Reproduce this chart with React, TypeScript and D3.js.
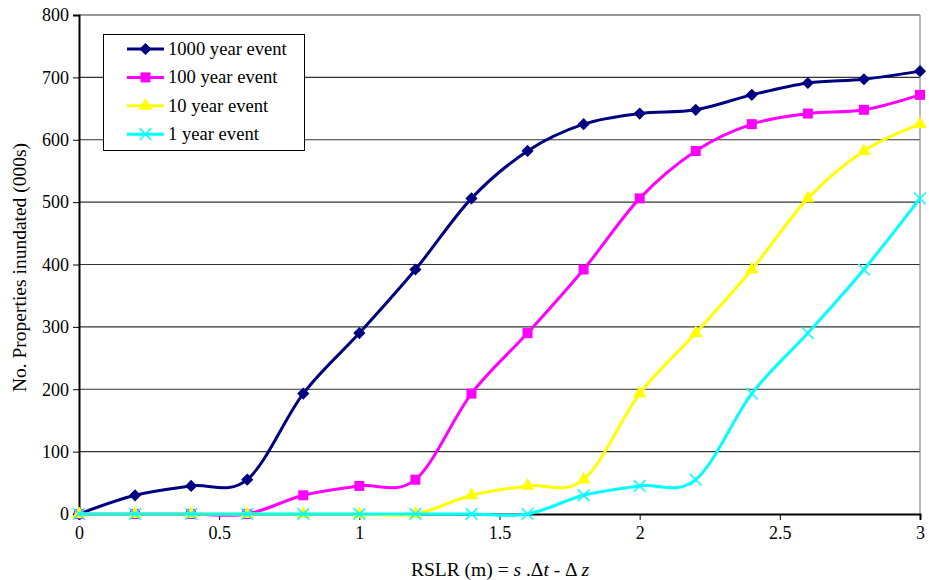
import React, { useRef, useEffect } from 'react';
import * as d3 from 'd3';

// RSLR values (m)
const rslr = [0, 0.2, 0.4, 0.6, 0.8, 1.0, 1.2, 1.4, 1.6, 1.8, 2.0, 2.2, 2.4, 2.6, 2.8, 3.0];

const event1000 = [0, 30, 45, 55, 193, 290, 392, 506, 582, 625, 642, 648, 672, 691, 697, 710];
const event100 = [0, 0, 0, 0, 30, 45, 55, 193, 290, 392, 506, 582, 625, 642, 648, 672];
const event10 = [0, 0, 0, 0, 0, 0, 0, 30, 45, 55, 193, 290, 392, 506, 582, 625];
const event1 = [0, 0, 0, 0, 0, 0, 0, 0, 0, 30, 45, 55, 193, 290, 392, 506];

const xTicks = [0, 0.5, 1, 1.5, 2, 2.5, 3];
const yTicks = [0, 100, 200, 300, 400, 500, 600, 700, 800];

const series = [
  { name: '1000 year event', values: event1000, color: '#000080', marker: 'diamond' },
  { name: '100 year event', values: event100, color: '#FF00FF', marker: 'square' },
  { name: '10 year event', values: event10, color: '#FFFF00', marker: 'triangle' },
  { name: '1 year event', values: event1, color: '#00FFFF', marker: 'cross' },
];

function App() {
  const ref = useRef(null);

  useEffect(() => {
    const svg = d3.select(ref.current);
    svg.selectAll('*').remove();

    const left = 79, right = 920, top = 15, bottom = 514;
    const font = 'Liberation Serif, Times New Roman, serif';

    const x = d3.scaleLinear().domain([0, 3]).range([left, right]);
    const y = d3.scaleLinear().domain([0, 800]).range([bottom, top]);

    // gridlines
    svg.append('g')
      .selectAll('line')
      .data(yTicks.slice(1))
      .join('line')
      .attr('x1', left).attr('x2', right)
      .attr('y1', d => y(d)).attr('y2', d => y(d))
      .attr('stroke', '#333').attr('stroke-width', 1.2);

    // right border
    svg.append('line')
      .attr('x1', right).attr('x2', right).attr('y1', top).attr('y2', bottom)
      .attr('stroke', '#888').attr('stroke-width', 1.2);

    const yAxis = d3.axisLeft(y).tickValues(yTicks).tickSize(6).tickFormat(d3.format('d'));
    const gy = svg.append('g').attr('transform', `translate(${left},0)`).call(yAxis);
    const xAxis = d3.axisBottom(x).tickValues(xTicks).tickSize(6).tickFormat(d => String(d));
    const gx = svg.append('g').attr('transform', `translate(0,${bottom})`).call(xAxis);

    [gy, gx].forEach(g => {
      g.attr('font-family', null).attr('font-size', null);
      g.select('.domain').attr('stroke', '#000').attr('stroke-width', 2);
      g.selectAll('.tick line').attr('stroke', '#000').attr('stroke-width', 1);
      g.selectAll('.tick text')
        .style('font-family', font).style('font-size', '18px').attr('fill', '#000');
    });
    gy.selectAll('.tick text').attr('x', -10);
    gx.selectAll('.tick text').attr('y', 12);

    // lines
    const line = d3.line<number>()
      .x((d, i) => x(rslr[i]))
      .y(d => y(d))
      .curve(d3.curveCatmullRom.alpha(0));

    const sym = {
      diamond: d3.symbol().type(d3.symbolDiamond2).size(95),
      square: d3.symbol().type(d3.symbolSquare).size(100),
      triangle: d3.symbol().type(d3.symbolTriangle).size(80),
      cross: d3.symbol().type(d3.symbolX).size(90),
    };

    const drawMarker = (g, s, cx, cy) => {
      const p = g.append('path')
        .attr('d', sym[s.marker]())
        .attr('transform', `translate(${cx},${cy})`);
      if (s.marker === 'cross') {
        p.attr('fill', 'none').attr('stroke', s.color).attr('stroke-width', 1.5);
      } else {
        p.attr('fill', s.color).attr('stroke', 'none');
      }
    };

    series.forEach(s => {
      const g = svg.append('g');
      g.append('path')
        .attr('d', line(s.values))
        .attr('fill', 'none')
        .attr('stroke', s.color)
        .attr('stroke-width', 3);
      s.values.forEach((v, i) => drawMarker(g, s, x(rslr[i]), y(v)));
    });

    // legend
    const lg = svg.append('g');
    lg.append('rect')
      .attr('x', 103.5).attr('y', 34.5).attr('width', 201).attr('height', 116)
      .attr('fill', '#fff').attr('stroke', '#000').attr('stroke-width', 1);
    series.forEach((s, i) => {
      const cy = 49 + i * 28.4;
      lg.append('line')
        .attr('x1', 127).attr('x2', 164).attr('y1', cy).attr('y2', cy)
        .attr('stroke', s.color).attr('stroke-width', 3);
      drawMarker(lg, s, 145.5, cy);
      lg.append('text')
        .attr('x', 168).attr('y', cy + 6)
        .style('font-family', font).style('font-size', '18.6px')
        .text(s.name);
    });

    // axis titles
    svg.append('text')
      .attr('transform', `translate(26,${(top + bottom) / 2 + 3}) rotate(-90)`)
      .attr('text-anchor', 'middle')
      .style('font-family', font).style('font-size', '19.5px')
      .text('No. Properties inundated (000s)');

    const xl = svg.append('text')
      .attr('x', 500).attr('y', 576)
      .attr('text-anchor', 'middle')
      .style('font-family', font).style('font-size', '19.5px');
    xl.append('tspan').text('RSLR (m) = ');
    xl.append('tspan').attr('font-style', 'italic').text('s');
    xl.append('tspan').text(' .Δ');
    xl.append('tspan').attr('font-style', 'italic').text('t');
    xl.append('tspan').text('  - Δ ');
    xl.append('tspan').attr('font-style', 'italic').text('z');
  }, []);

  return (
    <svg ref={ref} width={929} height={580}
      style={{ position: 'absolute', left: 0, top: 0, background: '#fff' }} />
  );
}

export default App;
